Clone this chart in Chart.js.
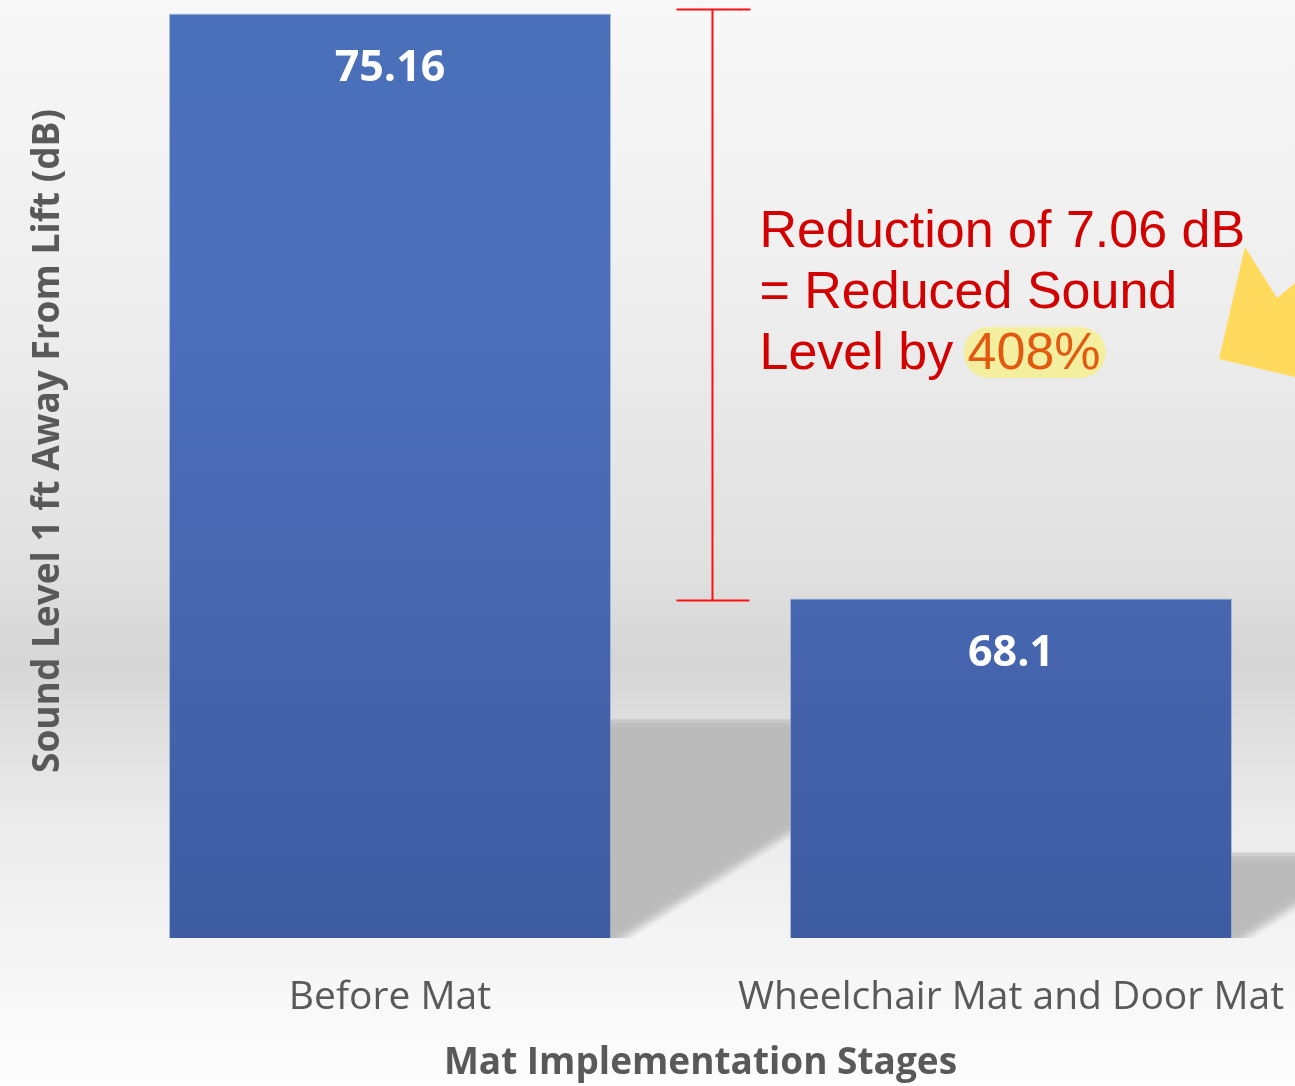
<!DOCTYPE html>
<html>
<head>
<meta charset="utf-8">
<script src="https://cdn.jsdelivr.net/npm/chart.js@4.4.1/dist/chart.umd.min.js"></script>
<style>
  html, body { margin: 0; padding: 0; overflow: hidden; width: 1295px; height: 1086px; background: #f4f4f4; }
  #wrap { position: absolute; left: 0; top: -56px; width: 1330px; height: 1142px; }
</style>
</head>
<body>
<div id="wrap"><canvas id="myChart"></canvas></div>
<script>
// data
const stages = ['Before Mat', 'Wheelchair Mat and Door Mat'];
const soundLevels = [75.16, 68.1];
const yRange = [64, 76];
const noteLines = ['Reduction of 7.06 dB', '= Reduced Sound', 'Level by '];
const notePercent = '408%';

const OFF = 56; // canvas is shifted up by this much

// page background + floor shadows
const backdrop = {
  id: 'backdrop',
  beforeDraw(chart) {
    const c = chart.ctx;
    const H = chart.height;
    const g = c.createLinearGradient(0, 0, 0, H);
    const st = (py, col) => g.addColorStop(Math.min(1, Math.max(0, (py + OFF) / H)), col);
    st(-56, '#fafafa');
    st(0, '#f8f8f8');
    st(300, '#eeeeee');
    st(560, '#e1e1e1');
    st(662, '#d6d6d6');
    st(700, '#dbdbdb');
    st(800, '#e9e9e9');
    st(900, '#f1f1f1');
    st(1000, '#f8f8f8');
    st(1086, '#fdfdfd');
    c.save();
    c.fillStyle = g;
    c.fillRect(0, 0, chart.width, H);

    // soft shadows cast to the right of each bar
    const meta = chart.getDatasetMeta(0);
    const yScale = chart.scales.y;
    const base = yScale.getPixelForValue(yRange[0]);
    c.beginPath();
    c.rect(0, 0, chart.width, base);
    c.clip();
    const steps = [-8, -4, 0, 4, 8];
    c.fillStyle = 'rgba(184,184,184,0.16)';
    meta.data.forEach((bar, i) => {
      const right = bar.x + (bar.width || 0) / 2;
      const topY = yScale.getPixelForValue(soundLevels[i]);
      const h = (base - topY) * 0.228;
      steps.forEach(dx => steps.forEach(dy => {
        c.beginPath();
        c.moveTo(right - 10, base - h + dy);
        c.lineTo(right + h / 0.63 + dx, base - h + dy);
        c.lineTo(right + dx, base + dy);
        c.lineTo(right - 10, base + dy);
        c.closePath();
        c.fill();
      }));
    });
    c.restore();
  }
};

// value labels, bracket and note
const notes = {
  id: 'notes',
  afterDatasetsDraw(chart) {
    const c = chart.ctx;
    const meta = chart.getDatasetMeta(0);
    const y = chart.scales.y;
    c.save();
    c.fillStyle = '#ffffff';
    c.font = 'bold 43px "Open Sans"';
    c.textAlign = 'center';
    c.textBaseline = 'middle';
    meta.data.forEach((bar, i) => {
      c.fillText(String(soundLevels[i]), bar.x, bar.y + 55);
    });

    // red bracket between the two values
    const b0 = meta.data[0], b1 = meta.data[1];
    const gapL = b0.x + b0.width / 2, gapR = b1.x - b1.width / 2;
    const bx = gapL + (gapR - gapL) * 0.567;
    const yTop = y.getPixelForValue(soundLevels[0]) - 4;
    const yBot = y.getPixelForValue(soundLevels[1]) + 2;
    c.strokeStyle = '#ff1010';
    c.lineWidth = 2;
    c.beginPath();
    c.moveTo(bx, yTop); c.lineTo(bx, yBot);
    c.moveTo(bx - 36, yTop); c.lineTo(bx + 38, yTop);
    c.moveTo(bx - 36, yBot); c.lineTo(bx + 37, yBot);
    c.stroke();

    // yellow arrow (partly off the page)
    c.fillStyle = '#ffda5c';
    c.beginPath();
    c.moveTo(1245, 247 + OFF);
    c.lineTo(1277, 298 + OFF);
    c.lineTo(1330, 254 + OFF);
    c.lineTo(1330, 386 + OFF);
    c.lineTo(1295, 377 + OFF);
    c.lineTo(1219, 359 + OFF);
    c.closePath();
    c.fill();

    // note text
    const tx = bx + 47;
    const top = chart.chartArea.top;
    c.textAlign = 'left';
    c.textBaseline = 'alphabetic';
    c.font = '52px "Liberation Sans"';
    c.fillStyle = '#d20000';
    const base = [303, 364, 425];
    noteLines.forEach((t, i) => c.fillText(t, tx, top + base[i]));
    const w = c.measureText(noteLines[2]).width;
    const pw = c.measureText(notePercent).width;
    c.fillStyle = 'rgba(244,240,150,0.9)';
    c.beginPath();
    c.roundRect(tx + w - 4, top + base[2] - 42, pw + 9, 51, 25);
    c.fill();
    c.fillStyle = '#e25a10';
    c.fillText(notePercent, tx + w, top + base[2]);
    c.restore();
  }
};

const ctx = document.getElementById('myChart');
new Chart(ctx, {
  type: 'bar',
  data: {
    labels: stages,
    datasets: [{
      data: soundLevels,
      backgroundColor: (context) => {
        const area = context.chart.chartArea;
        if (!area) return '#4a6fb8';
        const g = context.chart.ctx.createLinearGradient(0, area.top, 0, area.bottom);
        g.addColorStop(0, '#4870b9');
        g.addColorStop(0.35, '#4e6fbc');
        g.addColorStop(1, '#3e5ca2');
        return g;
      },
      borderColor: 'rgba(150,170,215,0.7)',
      borderWidth: 1,
      categoryPercentage: 0.712,
      barPercentage: 1
    }]
  },
  options: {
    responsive: true,
    maintainAspectRatio: false,
    animation: false,
    layout: { padding: { left: 0, right: 8.5, top: 0, bottom: 0 } },
    scales: {
      x: {
        grid: { display: false, drawTicks: false },
        border: { display: false },
        ticks: {
          color: '#595959',
          font: { family: 'Open Sans', size: 39 },
          padding: 36,
          maxRotation: 0,
          autoSkip: false
        },
        title: {
          display: true,
          text: 'Mat Implementation Stages',
          color: '#595959',
          font: { family: 'Open Sans', size: 37, weight: 'bold' },
          padding: { top: 0, bottom: 0 }
        },
        afterFit: (s) => { s.height = 148; }
      },
      y: {
        min: yRange[0],
        max: yRange[1],
        grid: { display: false, drawTicks: false },
        border: { display: false },
        ticks: { display: false },
        title: {
          display: true,
          text: 'Sound Level 1 ft Away From Lift (dB)',
          color: '#595959',
          font: { family: 'Open Sans', size: 37, weight: 'bold' },
          padding: { top: 26, bottom: 0 }
        },
        afterFit: (s) => { s.width = 79.5; }
      }
    },
    plugins: {
      legend: { display: false },
      tooltip: { enabled: false }
    }
  },
  plugins: [backdrop, notes]
});
</script>
</body>
</html>
